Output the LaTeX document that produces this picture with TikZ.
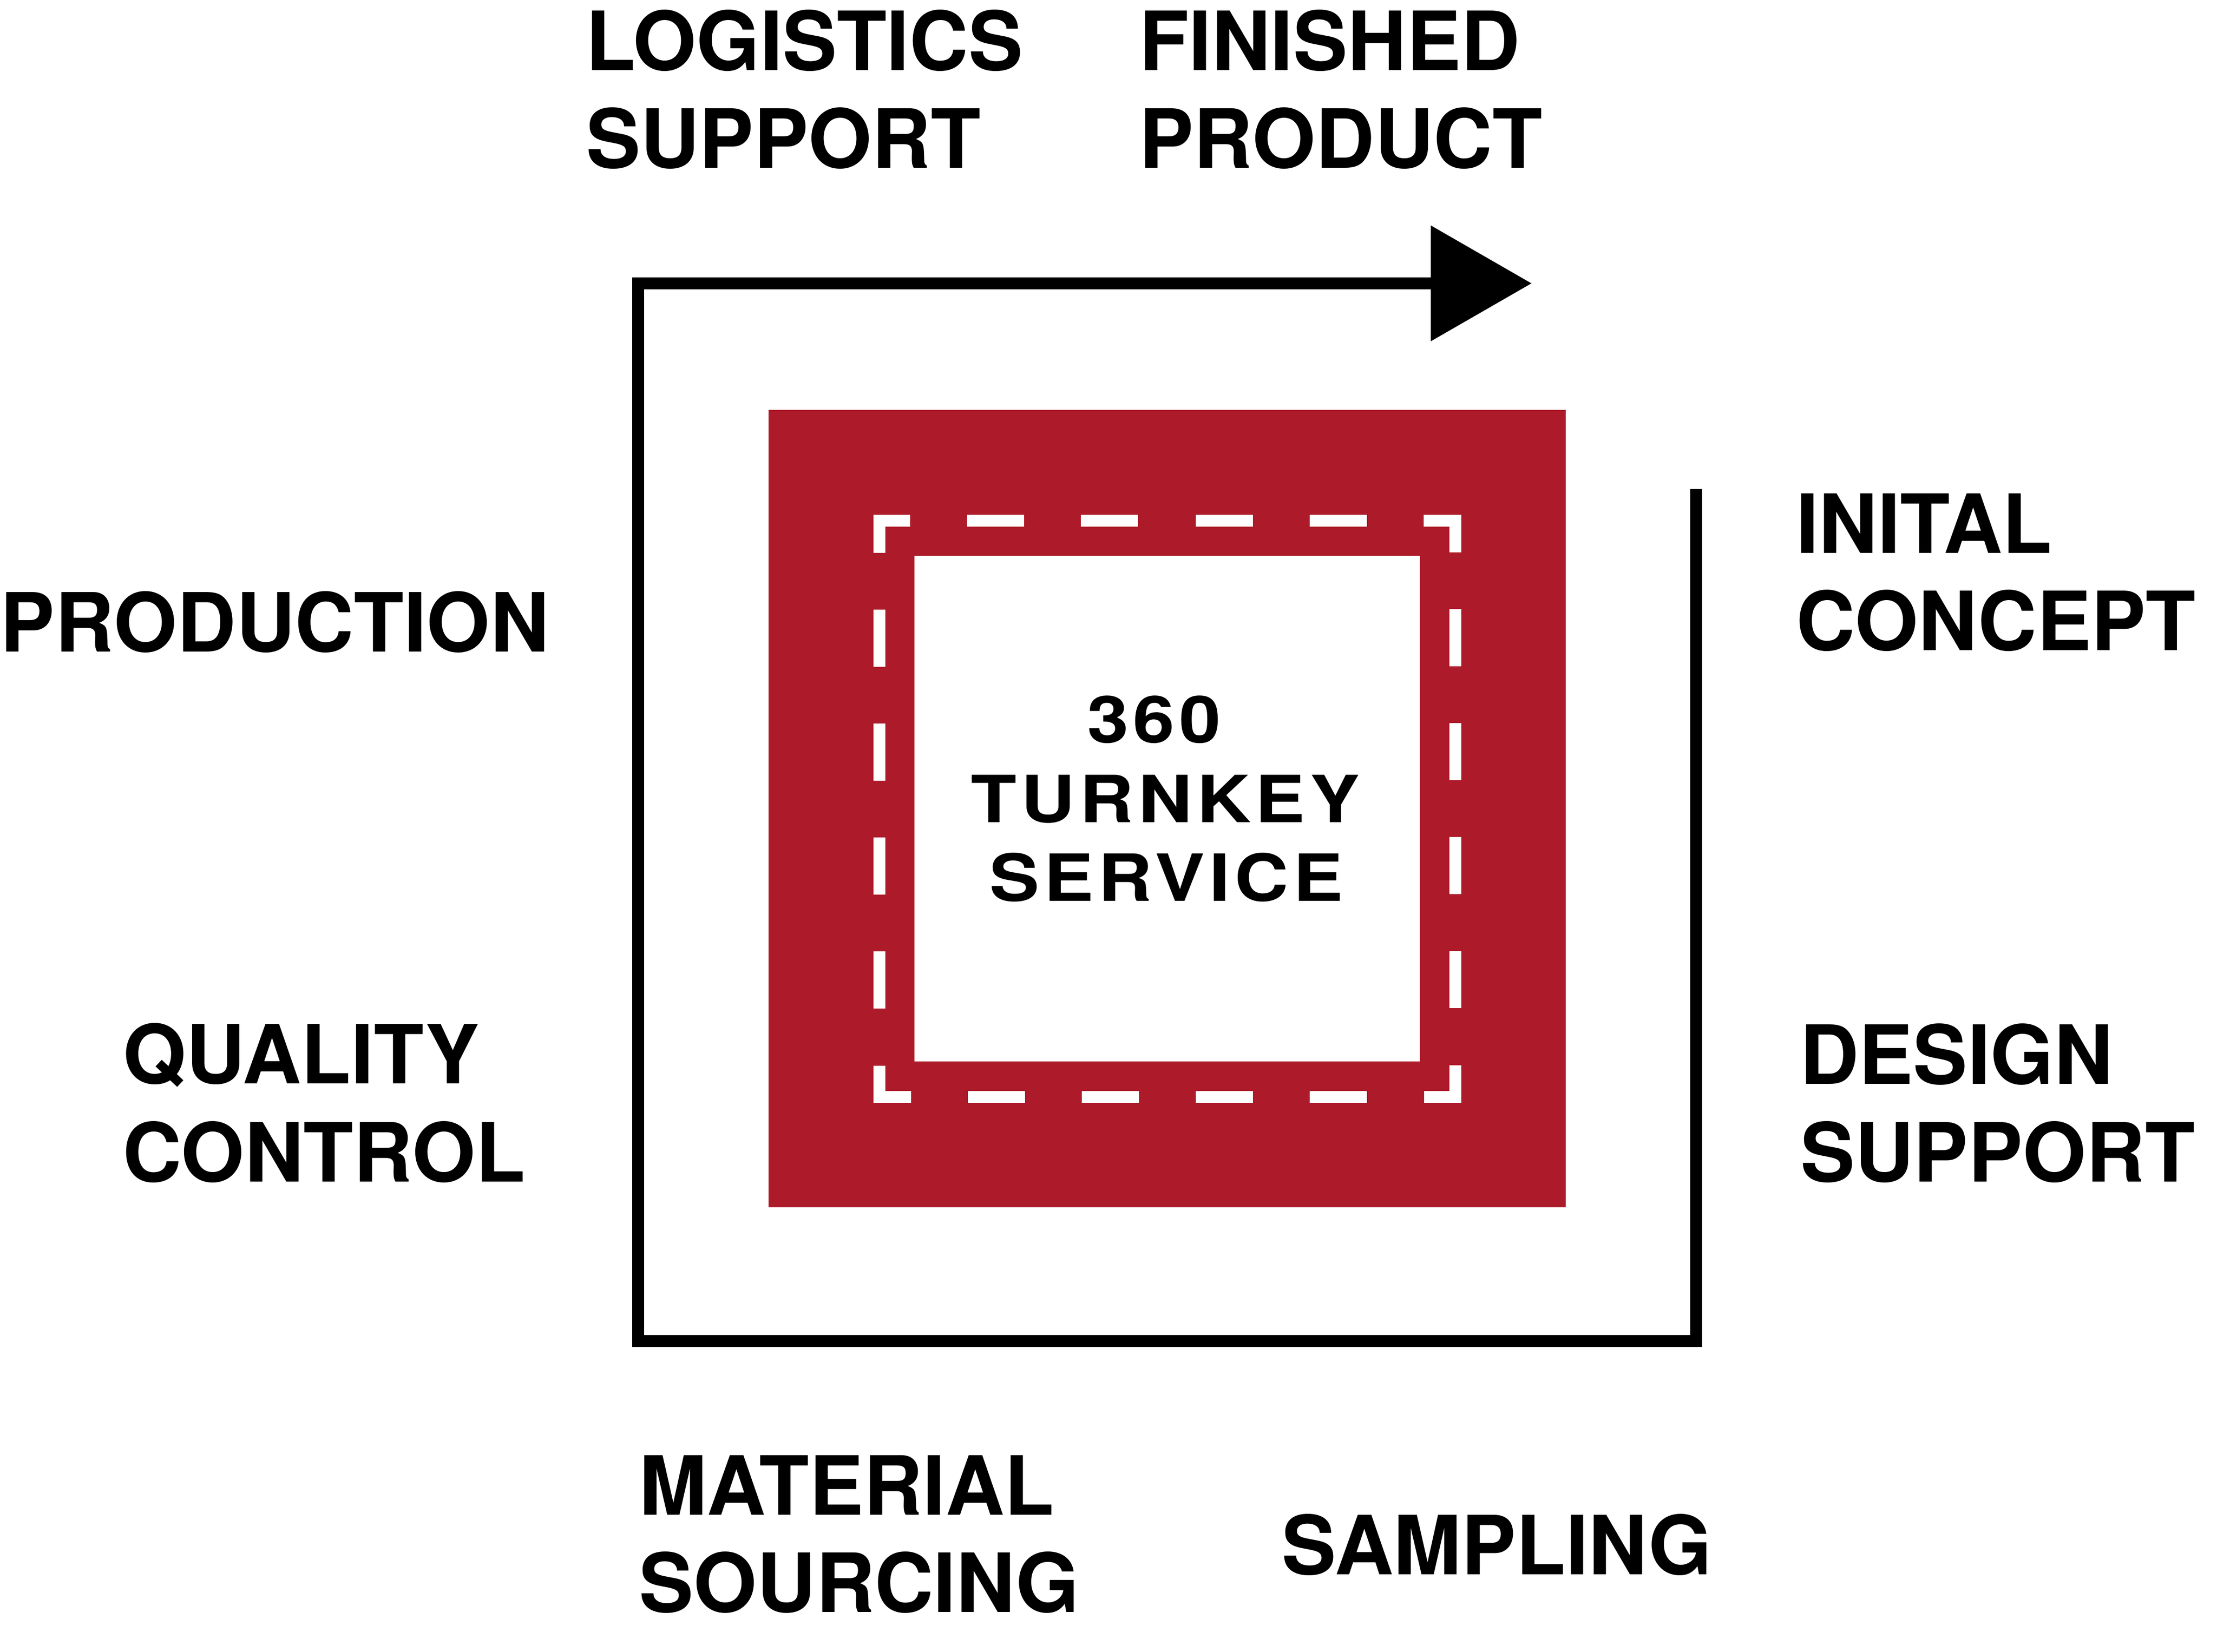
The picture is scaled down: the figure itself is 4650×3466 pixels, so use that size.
\documentclass[tikz,border=0pt]{standalone}
\usepackage{fontspec}
\setmainfont{TeX Gyre Heros}
\newfontfamily\centerfont[FakeStretch=1.15,LetterSpace=7]{TeX Gyre Heros}
\definecolor{brandred}{RGB}{173,26,41}
\begin{document}
\begin{tikzpicture}[x=1pt,y=-1pt,
  lbl/.style={inner sep=0pt,outer sep=0pt,anchor=base west,
    font=\bfseries\fontsize{171.3}{205}\selectfont},
  ctr/.style={inner sep=0pt,outer sep=0pt,anchor=base west,
    font=\centerfont\bfseries\fontsize{136.5}{167}\selectfont},
  flow/.style={line width=25pt,draw=black,line join=miter,line cap=butt},
  stitch/.style={line width=25pt,draw=white,line join=miter,
    dash pattern=on 132pt off 119.2pt on 120pt off 119.2pt on 120pt off 119.2pt on 120pt off 119.2pt on 120pt off 119.2pt,
    dash phase=670pt}]
\useasboundingbox (0,0) rectangle (4650,3466);
% outer flow path
\coordinate (start) at (3557,1026);
\coordinate (br) at (3557,2813);
\coordinate (bl) at (1338.5,2813);
\coordinate (tl) at (1338.5,594.5);
\coordinate (headback) at (3006,594.5);
\coordinate (headtop) at (3001,473);
\coordinate (tip) at (3212,594.5);
\coordinate (headbot) at (3001,716);
\draw[flow] (start) -- (br) -- (bl) -- (tl) -- (headback);
\fill[black] (headtop) -- (tip) -- (headbot) -- cycle;
% red square and white centre
\fill[brandred] (1612,860) rectangle (3284,2533);
\fill[white] (1918,1166) rectangle (2978,2227);
\draw[stitch] (2448,1092.5) -- (3052,1092.5) -- (3052,2301) -- (1844,2301) -- (1844,1092.5) -- cycle;
% centre text
\node[ctr] (c1) at (2280,1558) {360};
\node[ctr] (c2) at (2036,1725) {TURNKEY};
\node[ctr] (c3) at (2075,1890) {SERVICE};
% labels
\node[lbl] (log1) at (1228,147) {LOGISTICS};
\node[lbl] (log2) at (1229,352) {SUPPORT};
\node[lbl] (fin1) at (2389,147) {FINISHED};
\node[lbl] (fin2) at (2389,352) {PRODUCT};
\node[lbl] (prod) at (1,1367) {PRODUCTION};
\node[lbl] (qc1) at (257,2273) {QUALITY};
\node[lbl] (qc2) at (257,2479) {CONTROL};
\node[lbl] (ic1) at (3767,1160) {INITAL};
\node[lbl] (ic2) at (3767,1364) {CONCEPT};
\node[lbl] (ds1) at (3775,2274) {DESIGN};
\node[lbl] (ds2) at (3776,2479) {SUPPORT};
\node[lbl] (ms1) at (1340,3178) {MATERIAL};
\node[lbl] (ms2) at (1340,3382) {SOURCING};
\node[lbl] (samp) at (2688,3303) {SAMPLING};
\end{tikzpicture}
\end{document}
